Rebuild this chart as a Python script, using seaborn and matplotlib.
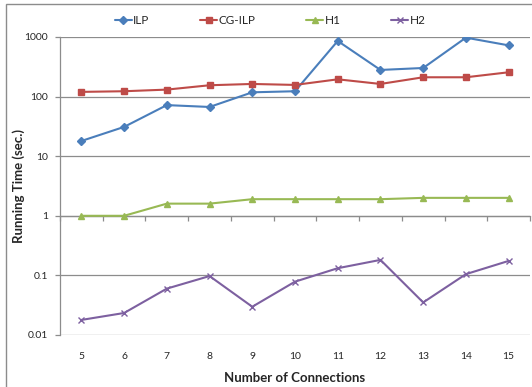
import pandas as pd
import matplotlib
matplotlib.use("Agg")
import matplotlib.pyplot as plt
import matplotlib.patches as mpatches
import seaborn as sns

# data
connections = [5, 6, 7, 8, 9, 10, 11, 12, 13, 14, 15]
ilp = [18, 31, 72, 67, 118, 123, 858, 280, 302, 975, 724]
cg_ilp = [120, 123, 131, 155, 163, 157, 195, 163, 211, 211, 256]
h1 = [1.0, 1.0, 1.6, 1.6, 1.9, 1.9, 1.9, 1.9, 2.0, 2.0, 2.0]
h2 = [0.0179, 0.0234, 0.060, 0.0975, 0.0298, 0.0785, 0.132, 0.182, 0.0352, 0.105, 0.175]
series_names = ["ILP", "CG-ILP", "H1", "H2"]

df = pd.concat([
    pd.DataFrame({"Connections": connections, "Time": vals, "Method": name})
    for name, vals in zip(series_names, [ilp, cg_ilp, h1, h2])
])

sns.set_style("white")
plt.rcParams["font.family"] = ["Lato", "DejaVu Sans"]

palette = {"ILP": "#4A7EBB", "CG-ILP": "#BE4B48", "H1": "#98B954", "H2": "#7D60A0"}
markers = {"ILP": "D", "CG-ILP": "s", "H1": "^", "H2": "x"}
msizes = {"ILP": 3.8, "CG-ILP": 4.6, "H1": 5, "H2": 4.5}

fig = plt.figure(figsize=(5.32, 3.87), dpi=100)
ax = fig.add_axes([60 / 532, 1 - 335 / 387, 470 / 532, 298 / 387])

for name in series_names:
    sub = df[df["Method"] == name]
    sns.lineplot(data=sub, x="Connections", y="Time", color=palette[name],
                 marker=markers[name], markersize=msizes[name],
                 markeredgewidth=1.0, markeredgecolor=palette[name],
                 linewidth=1.5, label=name, ax=ax)

ax.set_yscale("log")
ax.set_ylim(0.01, 1000)
ax.set_xlim(4.5, 15.5)
ax.set_yticks([0.01, 0.1, 1, 10, 100, 1000])
ax.set_yticklabels(["0.01", "0.1", "1", "10", "100", "1000"])
ax.minorticks_off()
ax.set_xticks(connections)
ax.set_xticklabels([str(c) for c in connections])
ax.yaxis.grid(True, color="#8c8c8c", linewidth=0.9)
ax.set_axisbelow(True)

for s in ["top", "right", "bottom"]:
    ax.spines[s].set_visible(False)
ax.spines["left"].set_color("#8c8c8c")
ax.spines["left"].set_linewidth(0.9)

ax.tick_params(axis="y", which="major", direction="out", length=3.5, width=0.9,
               color="#8c8c8c", labelsize=7.5, pad=5, left=True)
ax.tick_params(axis="x", length=0, labelsize=7.5, pad=12)

# category axis crosses the value axis at 1
sec = ax.secondary_xaxis(0.4)
sec.set_xticks([c - 0.5 for c in connections] + [connections[-1] + 0.5])
sec.tick_params(axis="x", direction="out", length=3.5, width=0.9, color="#8c8c8c",
                labelbottom=False)
sec.spines["bottom"].set_color("#8c8c8c")
sec.spines["bottom"].set_linewidth(0.9)

ax.set_xlabel("Number of Connections", fontsize=9.5, fontweight="bold", labelpad=8)
ax.set_ylabel("Running Time (sec.)", fontsize=9.5, fontweight="bold")
ax.yaxis.set_label_coords(-35 / 470, 0.5)

handles, labels = ax.get_legend_handles_labels()
ax.get_legend().remove()
fig.legend(handles, labels, loc="center", bbox_to_anchor=(0.508, 1 - 21 / 387),
           ncol=4, frameon=False, fontsize=8.5, handlelength=1.4, handletextpad=0.15,
           columnspacing=4.3)

# chart area border
fig.patches.append(mpatches.Rectangle((6 / 532, -0.1), 1.1, 1.1 - 4 / 387,
                                      transform=fig.transFigure, fill=False,
                                      edgecolor="#8c8c8c", linewidth=1.0))

fig.savefig("out.png", dpi=100)
